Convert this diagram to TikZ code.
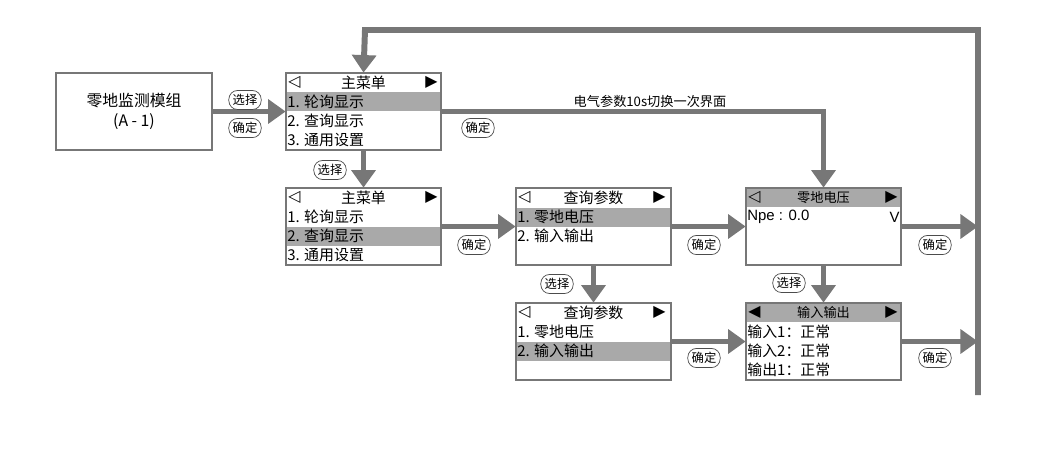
\documentclass[tikz,border=0pt]{standalone}
\usepackage{fontspec}
\setmainfont{Liberation Sans}
\newfontfamily\cjk{Noto Sans CJK SC}
\newfontfamily\sym{DejaVu Sans}
\usetikzlibrary{arrows.meta, positioning}
\definecolor{flowgray}{HTML}{777777}
\definecolor{barfill}{HTML}{A9A9A9}

\begin{document}
\begin{tikzpicture}[x=0.02cm, y=-0.02cm]
\tikzstyle{screen}=[minimum width=155*0.02cm, minimum height=77*0.02cm, inner sep=0pt]
\tikzstyle{line}=[anchor=west, inner sep=0pt, font=\cjk\fontsize{8.5}{9}\selectfont]
\tikzstyle{title}=[inner sep=0pt, font=\cjk\fontsize{8.5}{9}\selectfont]
\tikzstyle{key}=[draw=black!70, rounded corners=5pt, inner sep=2.2pt, fill=white, font=\cjk\fontsize{7}{8}\selectfont]
\tikzstyle{flow}=[draw=flowgray, line width=3.4pt, -{Triangle[length=10pt, width=13.5pt]}]
\useasboundingbox (0,0) rectangle (1048,450);
% screens
\node[screen] (module) at (134,111.5) {};
\node[screen] (main1) at (363.5,111.5) {};
\node[screen] (main2) at (363.5,226.5) {};
\node[screen] (query1) at (593.5,226.5) {};
\node[screen] (query2) at (593.5,341.5) {};
\node[screen] (npe) at (823.5,226.5) {};
\node[screen] (io) at (823.5,341.5) {};
% connectors
\coordinate (top) at (978,30);
\coordinate (bottom) at (978,395);
\coordinate (ret) at (365,30);
\draw[flow] (module) -- (main1.west);
\draw[flow] (main1.east) -| (npe.north);
\draw[flow] (main1) -- (main2.north);
\draw[flow] (main2.east) -- (query1.west);
\draw[flow] (query1.east) -- (npe.west);
\draw[flow] (query1) -- (query2.north);
\draw[flow] (npe) -- (io.north);
\draw[flow] (query2.east) -- (io.west);
\draw[flow] (npe.east) -- (npe.east -| bottom);
\draw[flow] (io.east) -- (io.east -| bottom);
\draw[flow] (bottom) -- (top) -- (ret) -- (main1.north);
\foreach \s in {module,main1,main2,query1,query2,npe,io}
  \fill[white] (\s.north west) rectangle (\s.south east);
% highlight bars
\fill[barfill] (287,92) rectangle (440,111);
\fill[barfill] (287,227) rectangle (440,246);
\fill[barfill] (517,208) rectangle (670,227);
\fill[barfill] (517,342) rectangle (670,361);
\fill[barfill] (747,189) rectangle (900,207);
\fill[barfill] (747,304) rectangle (900,322);
\foreach \s in {module,main1,main2,query1,query2,npe,io}
  \draw[flowgray, line width=1pt] (\s.north west) rectangle (\s.south east);
\node[font=\cjk\fontsize{9}{11}\selectfont, align=center] (modtxt) at (module) {零地监测模组\\(A - 1)};
% main menus
\foreach \s/\y in {main1/73, main2/188} {
  \node[title] at (363.5,\y+9.5) {主菜单};
  \node[line, font=\sym\fontsize{9}{9}\selectfont] at (288,\y+9.5) {◁};
  \node[line, font=\sym\fontsize{9}{9}\selectfont] at (425,\y+9.5) {▶};
  \node[line] at (287,\y+28.5) {1. 轮询显示};
  \node[line] at (287,\y+47.5) {2. 查询显示};
  \node[line] at (287,\y+66.5) {3. 通用设置};
}
% query menus
\foreach \s/\y in {query1/188, query2/303} {
  \node[title] at (593.5,\y+9.5) {查询参数};
  \node[line, font=\sym\fontsize{9}{9}\selectfont] at (518,\y+9.5) {◁};
  \node[line, font=\sym\fontsize{9}{9}\selectfont] at (653,\y+9.5) {▶};
  \node[line] at (517,\y+28.5) {1. 零地电压};
  \node[line] at (517,\y+47.5) {2. 输入输出};
}
% value screens
\node[title, font=\cjk\fontsize{7.5}{8}\selectfont] at (823.5,197.5) {零地电压};
\node[line, font=\sym\fontsize{9}{9}\selectfont] at (748,197.5) {◁};
\node[line, font=\sym\fontsize{9}{9}\selectfont] at (885,197.5) {▶};
\node[line, font=\fontsize{8.5}{9}\selectfont] at (747,217) {Npe :  0.0};
\node[line, anchor=east, font=\fontsize{8.5}{9}\selectfont] at (900,217) {V};
\node[title, font=\cjk\fontsize{7.5}{8}\selectfont] at (823.5,312.5) {输入输出};
\node[line, font=\sym\fontsize{9}{9}\selectfont] at (748,312.5) {◀};
\node[line, font=\sym\fontsize{9}{9}\selectfont] at (885,312.5) {▶};
\node[line] at (747,332) {输入1：正常};
\node[line] at (747,351) {输入2：正常};
\node[line] at (747,370) {输出1：正常};
% labels
\node[key] at (245,100) {选择};
\node[key] at (245,128) {确定};
\node[key] at (478,128) {确定};
\node[font=\cjk\fontsize{7.5}{8}\selectfont] at (650,101) {电气参数10s切换一次界面};
\node[key] at (330,170) {选择};
\node[key] at (474,245) {确定};
\node[key] at (704,245) {确定};
\node[key] at (557,284) {选择};
\node[key] at (789,283) {选择};
\node[key] at (704,358) {确定};
\node[key] at (935,245) {确定};
\node[key] at (935,358) {确定};
\end{tikzpicture}
\end{document}
